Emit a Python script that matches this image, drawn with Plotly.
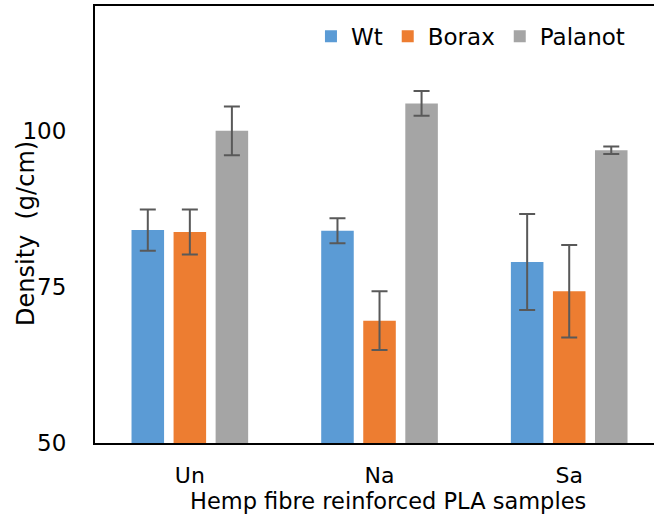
import plotly.graph_objects as go

categories = ["Un", "Na", "Sa"]
series_names = ["Wt", "Borax", "Palanot"]
wt_values = [84.1, 84.0, 79.0]
wt_errors = [3.3, 2.0, 7.7]
borax_values = [83.8, 69.6, 74.3]
borax_errors = [3.6, 4.7, 7.4]
palanot_values = [100.0, 104.4, 96.9]
palanot_errors = [3.9, 2.0, 0.6]
colors = ["#5B9BD5", "#ED7D31", "#A5A5A5"]
y_ticks = [50, 75, 100]

FONT = "DejaVu Sans"

fig = go.Figure()
for name, vals, errs, col in zip(series_names,
                                 [wt_values, borax_values, palanot_values],
                                 [wt_errors, borax_errors, palanot_errors],
                                 colors):
    fig.add_trace(go.Bar(
        x=categories, y=vals, name=name,
        marker=dict(color=col, line=dict(width=0)),
        error_y=dict(type="data", array=errs, visible=True,
                     color="#595959", thickness=2, width=8),
    ))

fig.update_layout(
    width=654, height=517,
    margin=dict(l=95, r=0, t=6, b=74),
    paper_bgcolor="white", plot_bgcolor="white",
    barmode="group", bargap=0.335, bargroupgap=0.226,
    font=dict(family=FONT, color="black", size=23),
    showlegend=True,
    legend=dict(orientation="h", x=0.957, xanchor="right", y=0.98, yanchor="top",
                font=dict(size=23, family=FONT), itemwidth=30,
                bgcolor="rgba(0,0,0,0)", traceorder="normal"),
    xaxis=dict(range=[-0.5, 2.447], showgrid=False, zeroline=False,
               showline=True, linecolor="black", linewidth=2, mirror=True,
               ticks="", tickfont=dict(size=22, family=FONT),
               ticklabelstandoff=12),
    yaxis=dict(range=[50, 120], tickvals=y_ticks, showgrid=False, zeroline=False,
               showline=True, linecolor="black", linewidth=2, mirror=False,
               ticks="", tickfont=dict(size=23, family=FONT),
               ticklabelstandoff=22),
    annotations=[
        dict(text="Hemp fibre reinforced PLA samples", xref="paper", yref="paper",
             x=(388 - 95) / 559, y=-(501 - 443) / 437, xanchor="center", yanchor="middle",
             showarrow=False, font=dict(size=22.5, family=FONT)),
        dict(text="Density  (g/cm)", xref="paper", yref="paper",
             x=-(95 - 26) / 559, y=(443 - 234) / 437, xanchor="center", yanchor="middle",
             textangle=-90, showarrow=False, font=dict(size=24, family=FONT)),
    ],
)

fig.write_html("out.html")
